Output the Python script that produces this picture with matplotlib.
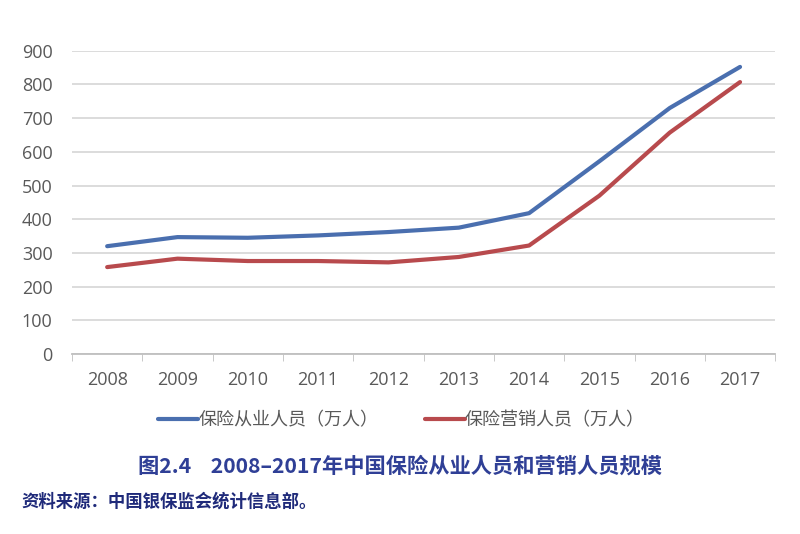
import matplotlib.pyplot as plt
import numpy as np

plt.rcParams['font.family'] = ['Noto Sans CJK SC', 'DejaVu Sans']

years = ['2008', '2009', '2010', '2011', '2012', '2013', '2014', '2015', '2016', '2017']
staff = [320, 347, 345, 352, 362, 375, 418, 572, 730, 852]
agents = [258, 283, 276, 276, 272, 288, 322, 470, 657, 807]
yticks = [0, 100, 200, 300, 400, 500, 600, 700, 800, 900]

blue = '#4a6faf'
red = '#b84a4d'
grey = '#595959'

fig = plt.figure(figsize=(8, 5.34), dpi=100)
ax = fig.add_axes([0.09, 0.337, 0.879, 0.568])
x = np.arange(len(years))
ax.plot(x, staff, color=blue, lw=3, solid_capstyle='round', label='保险从业人员（万人）')
ax.plot(x, agents, color=red, lw=3, solid_capstyle='round', label='保险营销人员（万人）')

ax.set_xlim(-0.5, len(years) - 0.5)
ax.set_ylim(0, 900)
ax.set_yticks(yticks)
ax.set_yticklabels([str(v) for v in yticks], fontsize=13, color=grey, family=['Open Sans', 'DejaVu Sans'])
ax.set_xticks(x)
ax.set_xticklabels(years, fontsize=13, color=grey, family=['Open Sans', 'DejaVu Sans'])
ax.tick_params(axis='x', length=0, pad=12)
ax.tick_params(axis='y', length=0, pad=14)
ax.set_xticks(np.arange(-0.5, len(years)), minor=True)
ax.tick_params(axis='x', which='minor', length=5, color='#bfbfbf', direction='out')
ax.grid(axis='y', color='#d9d9d9', lw=1.3)
ax.set_axisbelow(True)
for s in ['top', 'right', 'left']:
    ax.spines[s].set_visible(False)
ax.spines['bottom'].set_color('#bfbfbf')
ax.spines['bottom'].set_linewidth(1.3)

fig.legend(loc='center', bbox_to_anchor=(0.502, 0.213), ncol=2, frameon=False,
           fontsize=13, handlelength=2.2, handletextpad=0.0, columnspacing=2.6,
           labelcolor=grey)

fig.text(0.5, 0.127, '图2.4    2008–2017年中国保险从业人员和营销人员规模', ha='center', va='center',
         fontsize=15.3, fontweight='bold', color='#2f3f96')
fig.text(0.027, 0.06, '资料来源：中国银保监会统计信息部。', ha='left', va='center',
         fontsize=12.5, fontweight='bold', color='#1f2a7a')

fig.savefig('out.png', dpi=100)
